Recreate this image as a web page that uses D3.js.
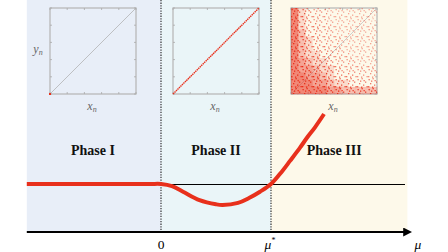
<!DOCTYPE html>
<html>
<head>
<meta charset="utf-8">
<script src="https://cdn.jsdelivr.net/npm/d3@7"></script>
<style>
  body { margin: 0; background: #fff; overflow: hidden; }
  svg { display: block; }
  text { font-family: "Liberation Serif", "DejaVu Serif", serif; }
</style>
</head>
<body>
<div id="chart-area"></div>
<script>
// datos de la curva (mu, lambda)
const curveMu = [-1.22, -0.6, -0.1, 0, 0.1, 0.2, 0.35, 0.5, 0.56, 0.7, 0.8, 0.9, 1.0, 1.1, 1.173, 1.264, 1.327, 1.4, 1.482];
const curveLambda = [0, 0, 0, 0, -0.03, -0.11, -0.23, -0.29, -0.30, -0.27, -0.20, -0.11, 0, 0.18, 0.33, 0.52, 0.66, 0.81, 1.0];

// fases
const phaseNames = ["Phase I", "Phase II", "Phase III"];
const phaseBounds = [-1.22, 0, 1, 2.24];
const phaseColors = ["#e8eef8", "#eaf5f8", "#fdf9ea"];
const tickLabels = ["0", "\u03bc*"];
const tickValues = [0, 1];

// densidad de puntos del mapa en fase III (filas de arriba a abajo)
const densityRows = [
  "965443333333",
  "965443333332",
  "965544333333",
  "975544333333",
  "976544433333",
  "976554433333",
  "976655443333",
  "987665444333",
  "988766544444",
  "998876555444",
  "999887665555",
  "999998877777"
];

const W = 448, H = 252;
const svg = d3.select("#chart-area").append("svg")
    .attr("width", W).attr("height", H);
const defs = svg.append("defs");

// escalas principales
const x = d3.scaleLinear().domain([0, 1]).range([161, 271]);
const y = d3.scaleLinear().domain([0, 1]).range([184, 114]);
const axisY = 232;

// fondos de fase
svg.selectAll("rect.phase").data(phaseNames).join("rect")
    .attr("class", "phase")
    .attr("x", (d, i) => x(phaseBounds[i]))
    .attr("y", 0)
    .attr("width", (d, i) => x(phaseBounds[i + 1]) - x(phaseBounds[i]))
    .attr("height", axisY)
    .attr("fill", (d, i) => phaseColors[i]);

// etiquetas de fase
svg.selectAll("text.phase").data(phaseNames).join("text")
    .attr("x", (d, i) => (x(phaseBounds[i]) + x(phaseBounds[i + 1])) / 2 + (i === 2 ? -5 : (i === 0 ? -1 : 0)))
    .attr("y", 155)
    .attr("text-anchor", "middle")
    .attr("font-weight", "bold")
    .attr("font-size", 14)
    .attr("fill", "#111")
    .text(d => d);

// lineas punteadas verticales
svg.selectAll("line.vdot").data(tickValues).join("line")
    .attr("x1", d => x(d)).attr("x2", d => x(d))
    .attr("y1", 0).attr("y2", axisY)
    .attr("stroke", "#222").attr("stroke-width", 1.1)
    .attr("stroke-dasharray", "1.3,1.3");

// linea horizontal de referencia
svg.append("line")
    .attr("x1", x(0)).attr("x2", 405)
    .attr("y1", y(0) + 0.5).attr("y2", y(0) + 0.5)
    .attr("stroke", "#000").attr("stroke-width", 1);

// curva roja
const data = curveMu.map((m, i) => ({ mu: m, l: curveLambda[i] }));
const line = d3.line().x(d => x(d.mu)).y(d => y(d.l)).curve(d3.curveCatmullRom.alpha(0.5));
svg.append("path").datum(data)
    .attr("d", line)
    .attr("fill", "none")
    .attr("stroke", "#e8301c")
    .attr("stroke-width", 4);

// eje mu con flecha
defs.append("marker")
    .attr("id", "arrow").attr("viewBox", "0 0 10 10")
    .attr("refX", 2).attr("refY", 5)
    .attr("markerWidth", 4.5).attr("markerHeight", 4.5)
    .attr("orient", "auto")
    .append("path").attr("d", "M0,0 L10,5 L0,10 Z").attr("fill", "#000");
svg.append("line")
    .attr("x1", x(-1.22)).attr("x2", 405)
    .attr("y1", axisY).attr("y2", axisY)
    .attr("stroke", "#000").attr("stroke-width", 2)
    .attr("marker-end", "url(#arrow)");

svg.selectAll("text.tick").data(tickLabels).join("text")
    .attr("x", (d, i) => x(tickValues[i]) + (i ? -1 : 0))
    .attr("y", 249)
    .attr("text-anchor", "middle")
    .attr("font-size", 13.5)
    .attr("font-style", (d, i) => i ? "italic" : "normal")
    .text(d => d === "\u03bc*" ? "\u03bc" : d)
    .filter((d, i) => i === 1)
    .append("tspan").attr("dy", -6).attr("font-size", 8).attr("font-style", "normal").text("*");

svg.append("text")
    .attr("x", 418).attr("y", 249)
    .attr("text-anchor", "middle")
    .attr("font-size", 13.5).attr("font-style", "italic")
    .text("\u03bc");

// recuadros internos
const insets = [50, 173, 291];
const insetTop = 8, insetSize = 86;

function drawInset(x0, showY) {
  const g = svg.append("g").attr("transform", `translate(${x0},${insetTop})`);
  const sx = d3.scaleLinear().domain([0, 1]).range([0, insetSize]);
  const sy = d3.scaleLinear().domain([0, 1]).range([insetSize, 0]);
  g.append("rect").attr("class", "frame")
      .attr("width", insetSize).attr("height", insetSize)
      .attr("fill", "none");
  const ticks = d3.range(0, 1.01, 0.2);
  const tg = g.append("g").attr("stroke", "#aaa").attr("stroke-width", 0.8);
  ticks.forEach(t => {
    tg.append("line").attr("x1", sx(t)).attr("x2", sx(t)).attr("y1", insetSize).attr("y2", insetSize - 2);
    tg.append("line").attr("x1", sx(t)).attr("x2", sx(t)).attr("y1", 0).attr("y2", 2);
    tg.append("line").attr("y1", sy(t)).attr("y2", sy(t)).attr("x1", 0).attr("x2", 2);
    tg.append("line").attr("y1", sy(t)).attr("y2", sy(t)).attr("x1", insetSize).attr("x2", insetSize - 2);
  });
  g.append("text")
      .attr("x", insetSize / 2 - 1).attr("y", insetSize + 16)
      .attr("text-anchor", "middle").attr("font-size", 12)
      .attr("font-style", "italic").attr("fill", "#666")
      .text("x").append("tspan").attr("dy", 2).attr("font-size", 8).text("n");
  if (showY) {
    g.append("text")
        .attr("x", -12).attr("y", 45)
        .attr("text-anchor", "middle").attr("font-size", 12)
        .attr("font-style", "italic").attr("fill", "#666")
        .text("y").append("tspan").attr("dy", 2).attr("font-size", 8).text("n");
  }
  return { g, sx, sy };
}

// patron de puntos
const pat = defs.append("pattern")
    .attr("id", "speck").attr("patternUnits", "userSpaceOnUse")
    .attr("width", 11).attr("height", 10);
[[0.5, 1], [4.5, 0], [8, 3.5], [2, 5], [6, 6.5], [3, 2.5], [9.5, 8], [0, 8], [6.5, 2], [4, 8.5]].forEach(p => {
  pat.append("rect").attr("x", p[0]).attr("y", p[1]).attr("width", 1.3).attr("height", 1.3).attr("fill", "#e8301c");
});

// fase I
const i1 = drawInset(insets[0], true);
i1.g.append("line").attr("x1", i1.sx(0)).attr("y1", i1.sy(0)).attr("x2", i1.sx(1)).attr("y2", i1.sy(1))
    .attr("stroke", "#aaa").attr("stroke-width", 0.7);
i1.g.append("rect").attr("x", i1.sx(0) - 1).attr("y", i1.sy(0) - 1).attr("width", 2).attr("height", 2).attr("fill", "#e8301c");

// fase II
const i2 = drawInset(insets[1], false);
i2.g.append("line").attr("x1", i2.sx(0)).attr("y1", i2.sy(0)).attr("x2", i2.sx(1)).attr("y2", i2.sy(1))
    .attr("stroke", "#e8301c").attr("stroke-width", 1.4).attr("stroke-dasharray", "1.5,0.6");

// fase III
const i3 = drawInset(insets[2], false);
const nC = densityRows[0].length, nR = densityRows.length;
const cells = [];
densityRows.forEach((row, r) => row.split("").forEach((v, c) => cells.push({ r, c, v: +v })));
const cw = insetSize / nC, ch = insetSize / nR;
i3.g.append("line").attr("x1", i3.sx(0)).attr("y1", i3.sy(0)).attr("x2", i3.sx(1)).attr("y2", i3.sy(1))
    .attr("stroke", "#bbb").attr("stroke-width", 0.7);
i3.g.selectAll("rect.base").data(cells).join("rect")
    .attr("x", d => d.c * cw).attr("y", d => d.r * ch)
    .attr("width", cw + 0.2).attr("height", ch + 0.2)
    .attr("fill", "#e8301c").attr("opacity", d => Math.max(0, (d.v - 5) * 0.14));
i3.g.selectAll("rect.sp").data(cells).join("rect")
    .attr("x", d => d.c * cw).attr("y", d => d.r * ch)
    .attr("width", cw + 0.2).attr("height", ch + 0.2)
    .attr("fill", "url(#speck)").attr("opacity", d => Math.min(1, d.v * 0.13));

svg.selectAll("rect.frame")
    .attr("stroke", "#b5b5b5").attr("stroke-width", 1.2);
</script>
</body>
</html>
